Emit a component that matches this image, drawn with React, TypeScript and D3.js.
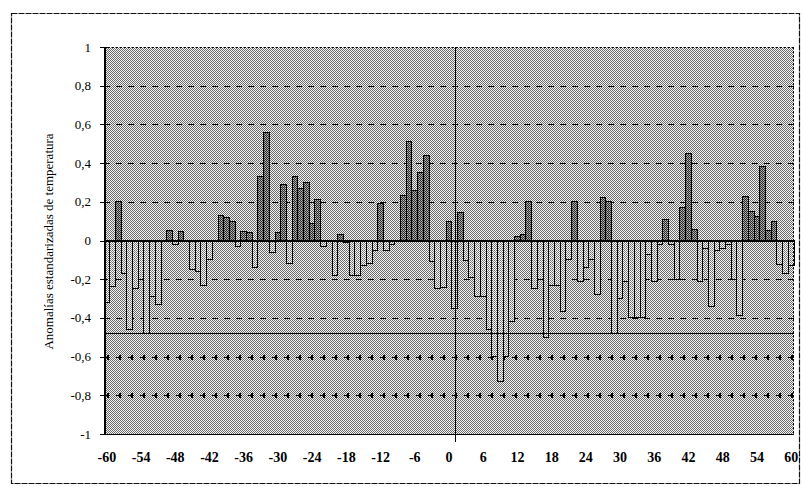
import React from "react";
import * as d3 from "d3";

const categories: number[] = d3.range(-60, 61);
const anomalies: number[] = [
  -0.32, -0.24, 0.2, -0.17, -0.46, -0.25, -0.2, -0.48, -0.29, -0.33,
  0, 0.05, -0.02, 0.045, 0, -0.15, -0.16, -0.23, -0.1, 0,
  0.13, 0.12, 0.1, -0.03, 0.045, 0.04, -0.14, 0.33, 0.56, -0.06,
  0.04, 0.29, -0.12, 0.33, 0.27, 0.3, 0.09, 0.21, -0.03, 0,
  -0.18, 0.03, -0.01, -0.18, -0.18, -0.13, -0.12, -0.05, 0.19, -0.05,
  -0.02, 0, 0.23, 0.51, 0.26, 0.35, 0.44, -0.11, -0.25, -0.245,
  0.1, -0.35, 0.145, -0.105, -0.19, -0.29, -0.29, -0.46, -0.6, -0.73,
  -0.6, -0.42, 0.02, 0.03, 0.2, -0.25, -0.2, -0.5, -0.23, -0.23,
  -0.365, -0.1, 0.2, -0.21, -0.14, -0.1, -0.28, 0.22, 0.2, -0.48,
  -0.3, -0.21, -0.4, -0.4, -0.4, -0.07, -0.21, -0.02, 0.11, -0.02,
  -0.2, 0.17, 0.45, 0.055, -0.21, -0.04, -0.34, -0.05, -0.04, -0.02,
  -0.2, -0.39, 0.225, 0.15, 0.125, 0.385, 0.05, 0.1, -0.125, -0.17,
  -0.13,
];
const yTickValues: number[] = [1, 0.8, 0.6, 0.4, 0.2, 0, -0.2, -0.4, -0.6, -0.8, -1];
const yTickLabels: string[] = ["1", "0,8", "0,6", "0,4", "0,2", "0", "-0,2", "-0,4", "-0,6", "-0,8", "-1"];
const xTickValues: number[] = [-60, -54, -48, -42, -36, -30, -24, -18, -12, -6, 0, 6, 12, 18, 24, 30, 36, 42, 48, 54, 60];
const dashedGrid: number[] = [0.8, 0.6, 0.4, 0.2, -0.2, -0.4];
const crossGrid: number[] = [-0.6, -0.8];
const thresholdValue = -0.48;
const markerCategory = 1;
const yTitle = "Anomalías estandarizadas de temperatura";

const W = 803;
const H = 486;
const PL = 104, PR = 794, PT = 47, PB = 434;
const FONT = "'Liberation Serif', 'Times New Roman', serif";

export default function App() {
  const x = d3.scaleBand<number>().domain(categories).range([PL, PR]).padding(0);
  const y = d3.scaleLinear().domain([-1, 1]).range([PB, PT]);
  const bw = x.bandwidth();
  const cx = (c: number) => (x(c) as number) + bw / 2;
  const markerX = Math.round(cx(markerCategory)) + 0.5;
  const ry = (v: number) => Math.round(y(v)) + 0.5;

  return (
    <svg
      width={W}
      height={H}
      style={{ position: "absolute", left: 0, top: 0, display: "block", background: "#fff" }}
    >
      <defs>
        <pattern id="bg" width="2" height="2" patternUnits="userSpaceOnUse">
          <rect width="2" height="2" fill="#f2f2f2" />
          <rect x="0" y="0" width="1" height="1" fill="#6c6c6c" />
          <rect x="1" y="1" width="1" height="1" fill="#6c6c6c" />
        </pattern>
        <pattern id="pos" width="2" height="2" patternUnits="userSpaceOnUse">
          <rect width="2" height="2" fill="#2a2a2a" />
          <rect x="1" y="0" width="1" height="1" fill="#bcbcbc" />
          <rect x="0" y="1" width="1" height="1" fill="#9a9a9a" />
        </pattern>
        <pattern id="neg" width="2" height="2" patternUnits="userSpaceOnUse">
          <rect width="2" height="2" fill="#f6f6f6" />
          <rect x="0" y="0" width="1" height="1" fill="#6c6c6c" />
          <rect x="1" y="1" width="1" height="1" fill="#8c8c8c" />
        </pattern>
      </defs>

      {/* outer frame */}
      <rect x={11.5} y={13.5} width={788} height={470} fill="none" stroke="#111" strokeWidth={1.2} strokeDasharray="6,1" />

      {/* plot background */}
      <rect x={PL} y={PT} width={PR - PL} height={PB - PT} fill="url(#bg)" shapeRendering="crispEdges" />

      {/* dashed gridlines */}
      {dashedGrid.map((v) => (
        <line
          key={"g" + v}
          x1={PL}
          x2={PR}
          y1={ry(v)}
          y2={ry(v)}
          stroke="#000"
          strokeWidth={1.4}
          strokeDasharray="6,6"
          shapeRendering="crispEdges"
        />
      ))}
      {crossGrid.map((v) => (
        <g key={"c" + v} shapeRendering="crispEdges">
          <line x1={PL} x2={PR} y1={ry(v)} y2={ry(v)} stroke="#000" strokeWidth={1.2} strokeDasharray="6,6" />
          <line x1={PL + 3} x2={PR} y1={ry(v)} y2={ry(v)} stroke="#000" strokeWidth={5} strokeDasharray="1.5,10.5" />
        </g>
      ))}

      {/* bars */}
      {categories.map((c, i) => {
        const v = anomalies[i];
        if (!v) return null;
        const y0 = y(0);
        const yv = y(v);
        return (
          <rect
            key={"b" + c}
            x={x(c) as number}
            y={Math.min(y0, yv)}
            width={bw}
            height={Math.abs(yv - y0)}
            fill={v > 0 ? "url(#pos)" : "url(#neg)"}
            stroke="#000"
            strokeWidth={1}
            shapeRendering="crispEdges"
          />
        );
      })}

      {/* zero line */}
      <line x1={PL} x2={PR} y1={y(0)} y2={y(0)} stroke="#000" strokeWidth={2} shapeRendering="crispEdges" />

      {/* threshold line */}
      <line x1={PL} x2={PR} y1={ry(thresholdValue)} y2={ry(thresholdValue)} stroke="#000" strokeWidth={1.8} shapeRendering="crispEdges" />

      {/* marker vertical line */}
      <line x1={markerX} x2={markerX} y1={PT} y2={PB + 8} stroke="#000" strokeWidth={1.3} shapeRendering="crispEdges" />

      {/* plot borders */}
      <line x1={PL} x2={PR} y1={PT + 0.5} y2={PT + 0.5} stroke="#000" strokeWidth={1} strokeDasharray="2,2" shapeRendering="crispEdges" />
      <line x1={PR - 0.5} x2={PR - 0.5} y1={PT} y2={PB} stroke="#000" strokeWidth={1} strokeDasharray="2,2" shapeRendering="crispEdges" />
      <line x1={PL} x2={PR} y1={PB + 0.5} y2={PB + 0.5} stroke="#000" strokeWidth={1.6} shapeRendering="crispEdges" />
      <line x1={PL + 0.5} x2={PL + 0.5} y1={PT} y2={PB + 1} stroke="#000" strokeWidth={2} shapeRendering="crispEdges" />

      {/* y ticks and labels */}
      {yTickValues.map((v, i) => (
        <g key={"yt" + v}>
          <line x1={PL - 4} x2={PL + 4} y1={ry(v)} y2={ry(v)} stroke="#000" strokeWidth={1.2} shapeRendering="crispEdges" />
          <text x={91} y={y(v)} dy="0.35em" textAnchor="end" fontFamily={FONT} fontSize={13} fill="#000">
            {yTickLabels[i]}
          </text>
        </g>
      ))}

      {/* x tick labels */}
      {xTickValues.map((c) => (
        <text key={"xt" + c} x={cx(c)} y={457} dy="0.35em" textAnchor="middle" fontFamily={FONT} fontSize={14} fontWeight="bold" fill="#000">
          {String(c)}
        </text>
      ))}

      {/* y title */}
      <text transform={`translate(48, ${(PT + PB) / 2 + 1}) rotate(-90)`} textAnchor="middle" dy="0.35em" fontFamily={FONT} fontSize={13} fill="#000">
        {yTitle}
      </text>
    </svg>
  );
}
